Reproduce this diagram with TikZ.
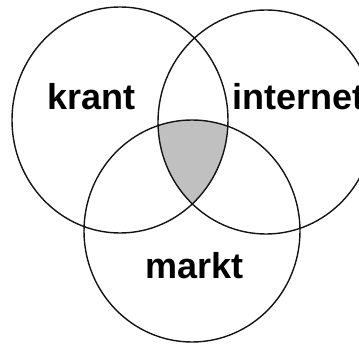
\documentclass[tikz,border=0pt]{standalone}
\usepackage{fontspec}
\newfontfamily\vennfont{Liberation Sans}
\definecolor{overlapgray}{RGB}{192, 192, 192}
\definecolor{rim}{RGB}{20, 20, 20}
\usetikzlibrary{positioning}
\tikzset{
  setrim/.style={draw=rim, line width=1.4pt},
  setlabel/.style={font=\vennfont\bfseries\fontsize{36}{40}\selectfont, inner sep=0pt, anchor=base west}
}
\begin{document}
\begin{tikzpicture}[x=1pt, y=-1pt]
            \useasboundingbox (0,0) rectangle (359,344);
            \clip (0,0) rectangle (359,344);
            \coordinate (krantc)    at (120,120);
            \coordinate (internetc) at (266,122);
            \coordinate (marktc)    at (192,231);
            \begin{scope}
                \clip (krantc) ellipse [x radius=108pt, y radius=113pt];
                \clip (internetc) ellipse [x radius=108pt, y radius=112pt];
                \fill[overlapgray] (marktc) ellipse [x radius=108pt, y radius=111pt];
            \end{scope}
            \draw[setrim] (krantc)    ellipse [x radius=108pt, y radius=113pt];
            \draw[setrim] (internetc) ellipse [x radius=108pt, y radius=112pt];
            \draw[setrim] (marktc)    ellipse [x radius=108pt, y radius=111pt];
            \node[setlabel] (krant)    at (47,110)  {krant};
            \node[setlabel] (internet) at (232,110) {internet};
            \node[setlabel] (markt)    at (145,279) {markt};
        \end{tikzpicture}
\end{document}
